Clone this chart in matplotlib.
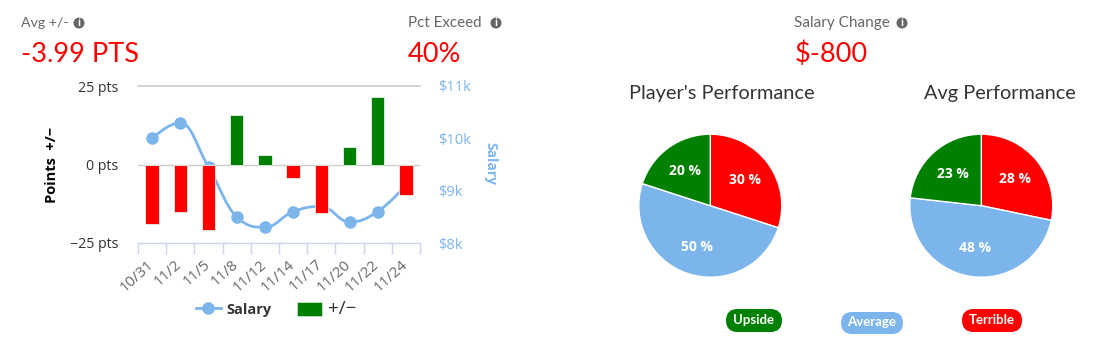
import matplotlib
matplotlib.use("Agg")
import matplotlib.pyplot as plt
from matplotlib.lines import Line2D
from matplotlib.patches import Circle, FancyBboxPatch, PathPatch, Patch
from matplotlib.path import Path
import numpy as np

W, H = 1114, 352
GREEN = "#008000"
RED = "#ff0000"
BLUE = "#7cb5ec"
GRAY = "#666666"

# data
dates = ["10/31", "11/2", "11/5", "11/8", "11/12", "11/14", "11/17", "11/20", "11/22", "11/24"]
plus_minus = [-19.0, -15.0, -21.0, 15.7, 2.9, -4.3, -15.4, 5.7, 21.6, -9.8]
salary = [10.0, 10.3, 9.45, 8.5, 8.3, 8.6, 8.7, 8.4, 8.6, 9.1]
y_ticks = [-25, 0, 25]
salary_ticks = [8, 9, 10, 11]
pie_labels = ["Terrible", "Average", "Upside"]
player_pct = [30, 50, 20]
avg_pct = [28, 48, 23]
pie_colors = [RED, BLUE, GREEN]


def px_axes(x0, y0, x1, y1):
    # y measured from the top of the picture
    return fig.add_axes([x0 / W, 1 - y1 / H, (x1 - x0) / W, (y1 - y0) / H])


def spline_path(xs, ys, smoothing=1.5):
    # same control points as a highcharts spline
    denom = smoothing + 1
    verts = [(xs[0], ys[0])]
    codes = [Path.MOVETO]
    right_prev = (xs[0], ys[0])
    n = len(xs)
    for i in range(1, n):
        x, y = xs[i], ys[i]
        if i < n - 1:
            lx = (smoothing * x + xs[i - 1]) / denom
            ly = (smoothing * y + ys[i - 1]) / denom
            rx = (smoothing * x + xs[i + 1]) / denom
            ry = (smoothing * y + ys[i + 1]) / denom
            corr = (ry - ly) * (rx - x) / (rx - lx) + y - ry
            ly += corr
            ry += corr
            if ly > max(ys[i - 1], y):
                ly = max(ys[i - 1], y)
                ry = 2 * y - ly
            elif ly < min(ys[i - 1], y):
                ly = min(ys[i - 1], y)
                ry = 2 * y - ly
            if ry > max(ys[i + 1], y):
                ry = max(ys[i + 1], y)
                ly = 2 * y - ry
            elif ry < min(ys[i + 1], y):
                ry = min(ys[i + 1], y)
                ly = 2 * y - ry
        else:
            lx, ly, rx, ry = x, y, x, y
        verts += [right_prev, (lx, ly), (x, y)]
        codes += [Path.CURVE4, Path.CURVE4, Path.CURVE4]
        right_prev = (rx, ry)
    return Path(verts, codes)


fig = plt.figure(figsize=(W / 100, H / 100), dpi=100, facecolor="white")

# bar and salary chart
ax = px_axes(138, 86, 420, 243)
ax2 = ax.twinx()
ax.set_zorder(2)
ax2.set_zorder(1)
ax.patch.set_visible(False)

x = np.arange(len(dates))
bar_colors = [GREEN if v >= 0 else RED for v in plus_minus]
ax.axhline(0, color="#cccccc", lw=1, zorder=1)
ax.axhline(25, color="#cccccc", lw=1.2, zorder=1, clip_on=False)
ax.bar(x, plus_minus, width=0.47, color=bar_colors, edgecolor="#e6f0e6", linewidth=0.6, zorder=3)
ax.set_xlim(-0.5, len(dates) - 0.5)
ax.set_ylim(-25, 25)
ax.set_yticks(y_ticks)
ax.set_yticklabels(["\u221225 pts", "0 pts", "25 pts"], fontsize=10.2, color="#333333", family="Open Sans")
ax.tick_params(axis="y", length=0, pad=14)
ax.set_xticks(np.arange(len(dates) + 1) - 0.5)
ax.set_xticklabels([])
ax.tick_params(axis="x", length=8, width=1, color="#ccd6eb")
for s in ["top", "left", "right"]:
    ax.spines[s].set_visible(False)
ax.spines["bottom"].set_color("#ccd6eb")
ax.spines["bottom"].set_linewidth(1)
for i, lab in enumerate(dates):
    ax.annotate(lab, (i, -25), xytext=(-4, -10), textcoords="offset points", rotation=42,
                ha="right", va="top", rotation_mode="anchor", fontsize=10.8, color=GRAY, family="Open Sans")

ax2.set_ylim(8, 11)
ax2.set_yticks(salary_ticks)
ax2.set_yticklabels([f"${t}k" for t in salary_ticks], fontsize=10.6, color=BLUE, family="Open Sans")
ax2.tick_params(axis="y", length=0, pad=13)
for s in ax2.spines.values():
    s.set_visible(False)
ax2.add_patch(PathPatch(spline_path(list(x), salary), fill=False, edgecolor=BLUE, lw=2, zorder=2))
ax2.plot(x, salary, ls="none", marker="o", ms=8, color=BLUE, zorder=3)

leg_handles = [Line2D([], [], color=BLUE, lw=2, marker="o", ms=8), Patch(facecolor=GREEN, edgecolor="#c8e0c8", lw=0.6)]
leg = fig.legend(leg_handles, ["Salary", "+/\u2212"], ncol=2, frameon=False, loc="center",
                 bbox_to_anchor=(276 / W, 1 - 309 / H), handlelength=1.72, handleheight=1.05,
                 columnspacing=1.75, handletextpad=0.4, prop={"family": "Open Sans", "size": 10.5})
leg.get_texts()[0].set_fontweight("bold")
leg.get_texts()[0].set_color("#333333")
leg.get_texts()[1].set_color("#333333")
leg.get_texts()[1].set_fontsize(13.5)

# pies
for cx, vals in [(710.3, player_pct), (981.3, avg_pct)]:
    pie_ax = px_axes(cx - 71.5, 205.7 - 71.5, cx + 71.5, 205.7 + 71.5)
    _, _, autotexts = pie_ax.pie(vals, colors=pie_colors, startangle=90, counterclock=False, radius=1,
                                 pctdistance=0.6, autopct=lambda p: f"{p:.0f} %",
                                 wedgeprops={"edgecolor": "white", "linewidth": 1})
    pie_ax.set_xlim(-1, 1)
    pie_ax.set_ylim(-1, 1)
    for t in autotexts:
        t.set_color("white")
        t.set_fontweight("bold")
        t.set_fontsize(10)
        t.set_family("Open Sans")

# everything else is placed in pixels on a full size overlay
ov = fig.add_axes([0, 0, 1, 1], zorder=5)
ov.set_xlim(0, W)
ov.set_ylim(H, 0)
ov.axis("off")

ov.text(52, 165, "Points  +/\u2212", rotation=90, ha="center", va="center", fontsize=10.5,
        fontweight="bold", color="black", family="Open Sans")
ov.text(490, 164, "Salary", rotation=270, ha="center", va="center", fontsize=10,
        fontweight="bold", color=BLUE, family="Open Sans")

headers = [("Avg +/-", 21, 79, 10.2), ("Pct Exceed", 408, 496, 10.9), ("Salary Change", 794, 902, 11)]
for label, tx, icon_x, size in headers:
    ov.text(tx, 23, label, ha="left", va="center", fontsize=size, color=GRAY, family="Lato")
    ov.add_patch(Circle((icon_x, 23), 5.5, color=GRAY, lw=0))
    ov.text(icon_x, 23, "i", ha="center", va="center", fontsize=7, fontweight="bold", color="white", family="Open Sans")

for label, tx in [("-3.99 PTS", 21), ("40%", 408), ("$-800", 795)]:
    ov.text(tx, 54.5, label, ha="left", va="center", fontsize=19.5, color=RED, family="Lato")

ov.text(722, 94, "Player's Performance", ha="center", va="center", fontsize=14.4, color="#333333", family="Lato")
ov.text(1000, 94, "Avg Performance", ha="center", va="center", fontsize=14.3, color="#333333", family="Lato")

pills = [("Upside", 726, 782, 309, 332, GREEN), ("Average", 841, 903, 312, 334, BLUE), ("Terrible", 962, 1022, 309, 332, RED)]
for label, x0, x1, y0, y1, col in pills:
    r = (y1 - y0) / 2
    ov.add_patch(FancyBboxPatch((x0, y0), x1 - x0, y1 - y0, boxstyle=f"round,pad=0,rounding_size={r}",
                                facecolor=col, edgecolor=col, lw=0))
    ov.text((x0 + x1) / 2, (y0 + y1) / 2 - 0.5, label, ha="center", va="center", fontsize=9.5,
            color="white", family="Lato", fontweight="bold")

fig.savefig("out.png", dpi=100, facecolor="white")
